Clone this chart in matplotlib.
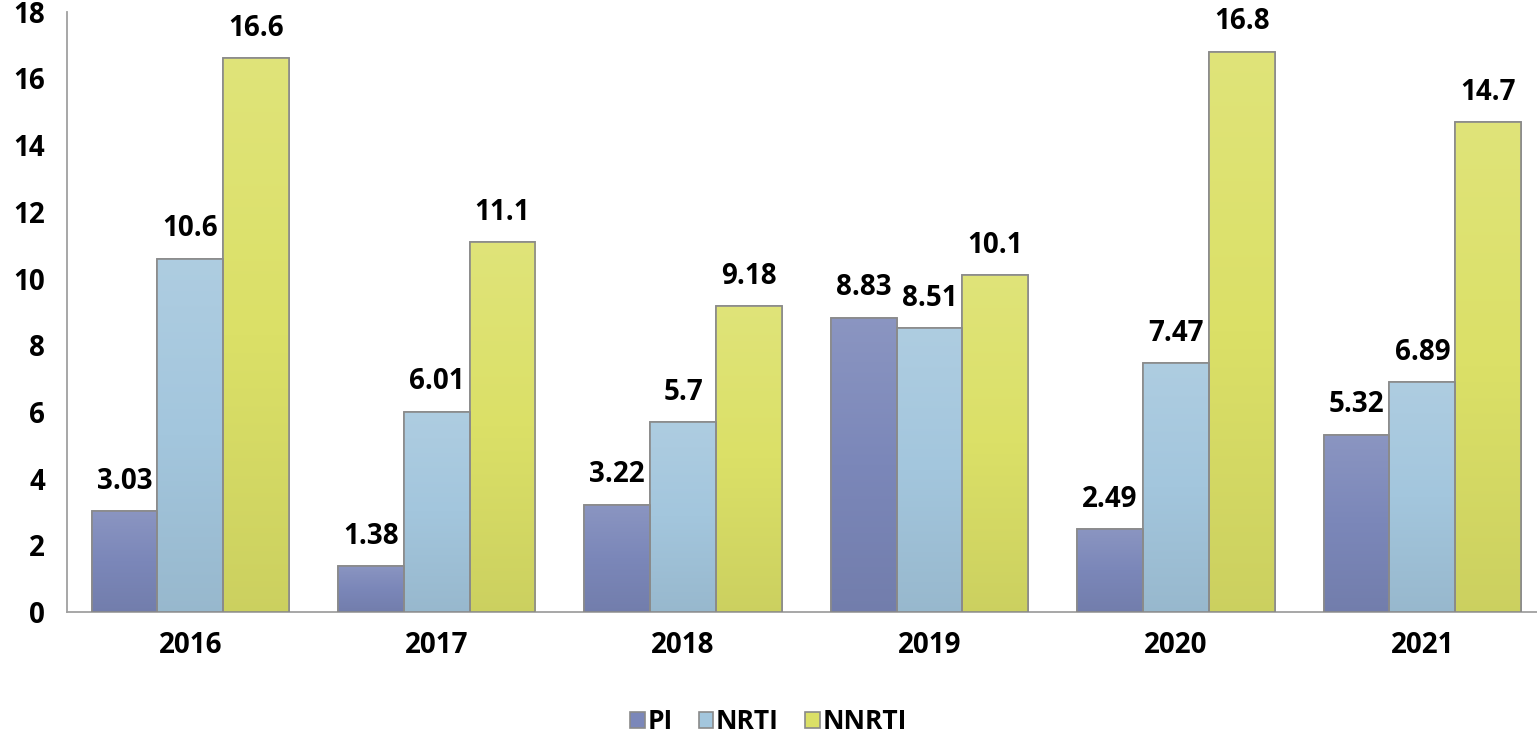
import matplotlib
matplotlib.use('Agg')
import numpy as np
import matplotlib.pyplot as plt
from matplotlib.colors import LinearSegmentedColormap, to_rgb

plt.rcParams['font.family'] = ['Open Sans', 'DejaVu Sans']
plt.rcParams['font.weight'] = 'bold'

years = ['2016', '2017', '2018', '2019', '2020', '2021']
pi = [3.03, 1.38, 3.22, 8.83, 2.49, 5.32]
nrti = [10.6, 6.01, 5.7, 8.51, 7.47, 6.89]
nnrti = [16.6, 11.1, 9.18, 10.1, 16.8, 14.7]

series = [('PI', pi, '#7b87b9'), ('NRTI', nrti, '#a3c6dd'), ('NNRTI', nnrti, '#dbe067')]


def shade(col, f):
    c = np.array(to_rgb(col))
    if f > 0:
        return tuple(c + (1 - c) * f)
    return tuple(c * (1 + f))


fig = plt.figure(figsize=(15.37, 7.33), dpi=100)
ax = fig.add_axes([0.0436, 0.165, 0.962, 0.819])

x = np.arange(len(years))
width = 0.267
for i, (name, vals, col) in enumerate(series):
    pos = x + (i - 1) * width
    bars = ax.bar(pos, vals, width=width, color=col, edgecolor='#8a8a8a',
                  linewidth=1.2, label=name, zorder=3)
    # soft vertical gradient inside each bar, lighter at the top
    cmap = LinearSegmentedColormap.from_list(name, [shade(col, -0.07), col, shade(col, 0.12)])
    grad = np.linspace(0, 1, 256).reshape(-1, 1)
    for b, v in zip(bars, vals):
        x0 = b.get_x()
        im = ax.imshow(grad, cmap=cmap, origin='lower', aspect='auto',
                       extent=(x0, x0 + width, 0, v), zorder=3.5)
        im.set_clip_path(b)
        ax.bar(b.get_x() + width / 2, v, width=width, fill=False,
               edgecolor='#8a8a8a', linewidth=1.2, zorder=4)
        ax.annotate(str(v), (x0 + width / 2, v),
                    xytext=(0, 11), textcoords='offset points',
                    ha='center', va='bottom', fontsize=20, fontweight='bold')

ax.set_xlim(-0.5, len(years) - 0.5)
ax.set_ylim(0, 18)
ax.set_yticks(np.arange(0, 19, 2))
ax.set_xticks(x)
ax.set_xticklabels(years)
ax.tick_params(axis='both', length=0, labelsize=20)
ax.tick_params(axis='y', pad=16)
ax.tick_params(axis='x', pad=14)
for lab in ax.get_xticklabels() + ax.get_yticklabels():
    lab.set_fontweight('bold')

ax.spines['top'].set_visible(False)
ax.spines['right'].set_visible(False)
ax.spines['left'].set_color('#a0a0a0')
ax.spines['bottom'].set_color('#a0a0a0')
ax.spines['left'].set_linewidth(1.3)
ax.spines['bottom'].set_linewidth(1.3)

leg = fig.legend(loc='lower center', bbox_to_anchor=(0.5, -0.035), ncol=3,
                 frameon=False, handlelength=0.55, handleheight=0.55,
                 handletextpad=0.1, columnspacing=1.0,
                 prop={'weight': 'bold', 'size': 19})

fig.savefig('out.png', dpi=100)
